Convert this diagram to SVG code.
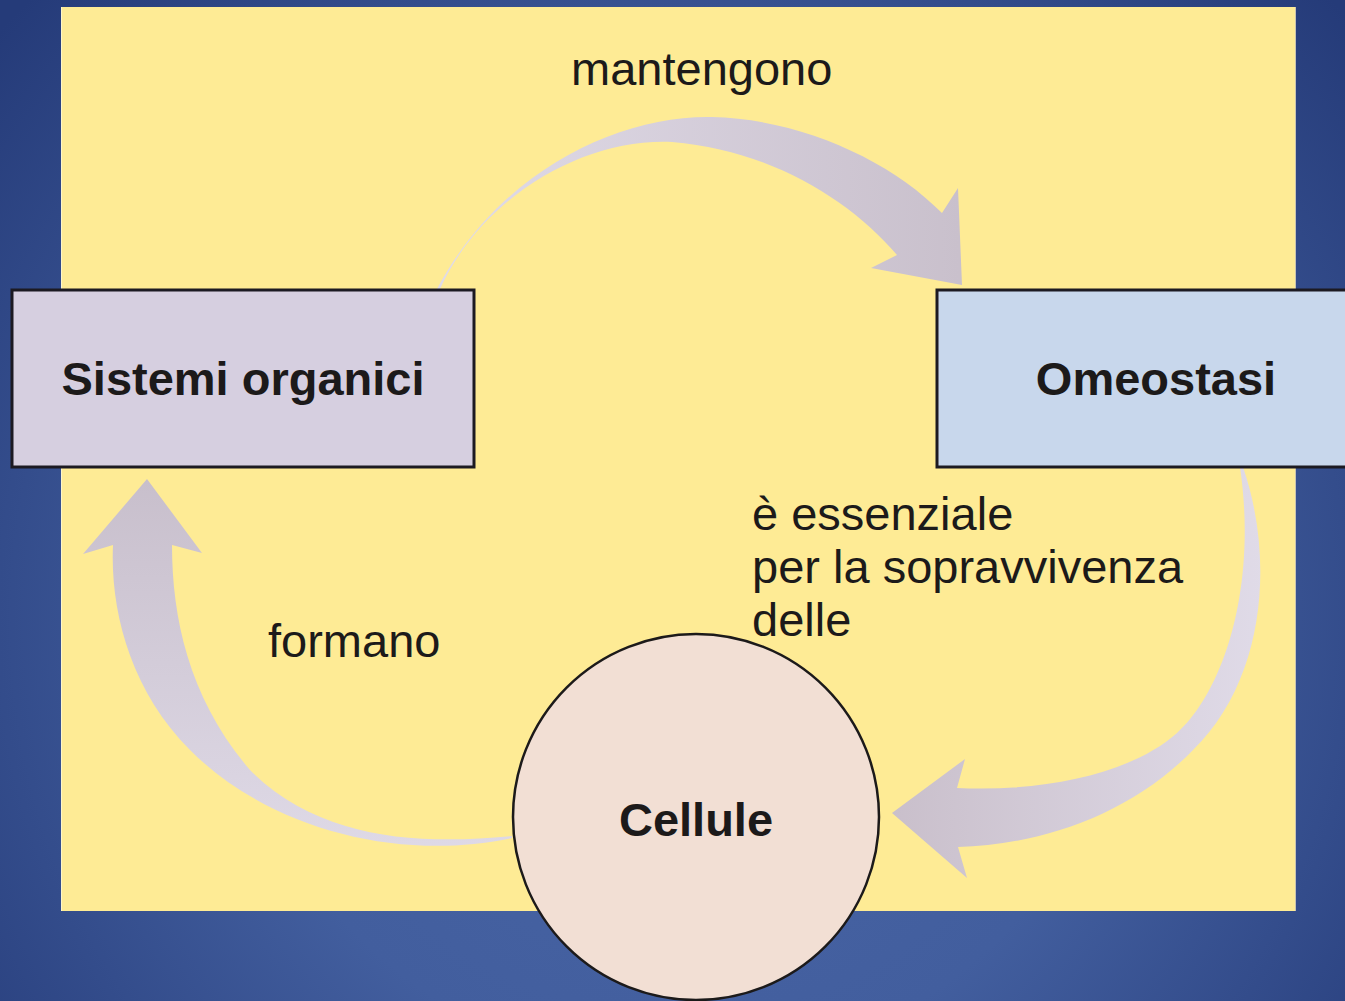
<svg xmlns="http://www.w3.org/2000/svg" width="1345" height="1001" viewBox="0 0 1345 1001">
<defs>
<radialGradient id="bg" cx="680" cy="620" r="900" gradientUnits="userSpaceOnUse">
<stop offset="0" stop-color="#4a66a6"/>
<stop offset="0.5" stop-color="#425e9e"/>
<stop offset="1" stop-color="#253b79"/>
</radialGradient>
<linearGradient id="gTop" x1="440" y1="0" x2="960" y2="0" gradientUnits="userSpaceOnUse">
<stop offset="0" stop-color="#e0dbe8"/>
<stop offset="1" stop-color="#c9c0cc"/>
</linearGradient>
<linearGradient id="gLeft" x1="0" y1="480" x2="0" y2="860" gradientUnits="userSpaceOnUse">
<stop offset="0" stop-color="#c8bfcc"/>
<stop offset="1" stop-color="#dfdae7"/>
</linearGradient>
<linearGradient id="gRight" x1="890" y1="0" x2="1265" y2="0" gradientUnits="userSpaceOnUse">
<stop offset="0" stop-color="#c9bfcb"/>
<stop offset="1" stop-color="#e0dbe8"/>
</linearGradient>
<style>
.lbl{font-family:"Liberation Sans",Arial,sans-serif;font-size:47px;fill:#1c1a1a}
.bold{font-weight:bold;text-anchor:middle}
.box{stroke:#1c1a22;stroke-width:3}
</style>
</defs>
<rect width="1345" height="1001" fill="url(#bg)"/>
<rect x="61" y="7" width="1234" height="904" fill="#feeb95"/>
<line x1="61.5" y1="7" x2="61.5" y2="911" stroke="#fff6c8" stroke-width="1"/>
<line x1="1295.5" y1="7" x2="1295.5" y2="911" stroke="#c9c3b0" stroke-width="1"/>

<g id="connectors">
<path d="M437,289 C500,170 620,115 712,117 C800,119 890,160 942,213 L958,188 L962,285 L871,268 L897,255 C850,200 770,150 672,142 C580,138 480,200 440,289 Z" fill="url(#gTop)"/>
<path d="M512,838 C400,862 270,830 190,750 C130,690 110,610 113,545 L83,554 L147,479 L202,553 L172,545 C172,620 190,700 250,770 C320,840 420,845 512,836 Z" fill="url(#gLeft)"/>
<path d="M1243,467 C1275,560 1265,680 1193,750 C1130,815 1040,845 958,847 L967,878 L892,813 L965,759 L957,788 C1040,792 1130,775 1177,733 C1222,693 1258,590 1240,467 Z" fill="url(#gRight)"/>
<text class="lbl" x="571" y="85">mantengono</text>
<text class="lbl" x="268" y="657">formano</text>
<text class="lbl" x="752" y="530">è essenziale</text>
<text class="lbl" x="752" y="583">per la sopravvivenza</text>
<text class="lbl" x="752" y="636">delle</text>
</g>

<g id="node-sistemi">
<rect class="box" x="12" y="290" width="462" height="177" fill="#d6cfe0"/>
<text class="lbl bold" x="243" y="395">Sistemi organici</text>
</g>
<g id="node-omeostasi">
<rect class="box" x="937" y="290" width="420" height="177" fill="#c8d7ec"/>
<text class="lbl bold" x="1156" y="395">Omeostasi</text>
</g>
<g id="node-cellule">
<circle cx="696" cy="817" r="183" fill="#f2dfd4" stroke="#1c1a1a" stroke-width="2.5"/>
<text class="lbl bold" x="696" y="836">Cellule</text>
</g>
</svg>
